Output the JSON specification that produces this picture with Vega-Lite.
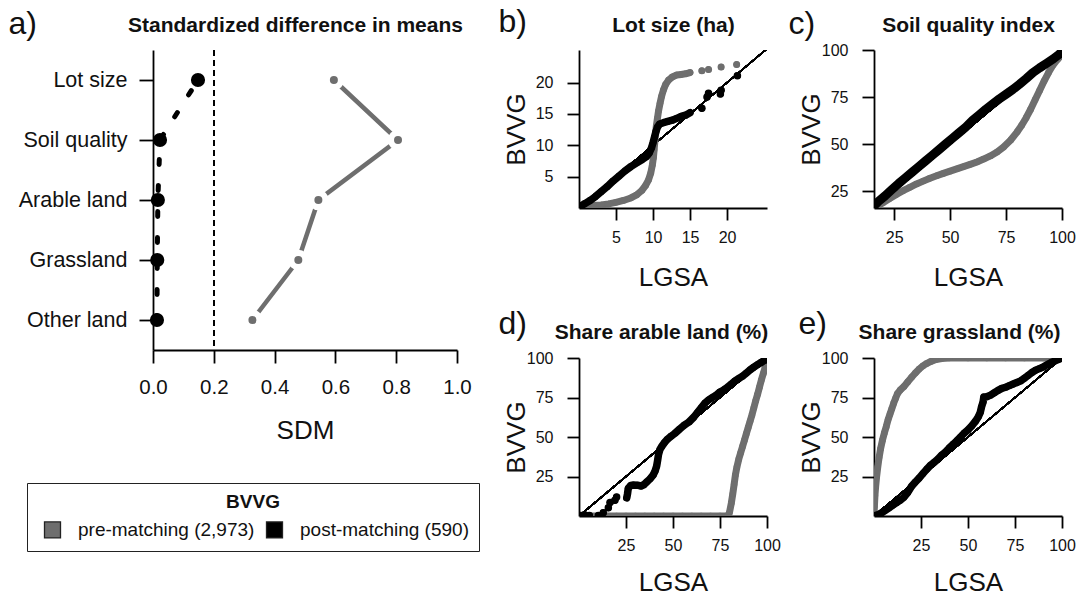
{
  "$schema": "https://vega.github.io/schema/vega-lite/v6.json",
  "autosize": {"type": "none"},
  "padding": {"left": 153, "top": 50, "right": 932, "bottom": 546},
  "background": "white",
  "bounds": "flush",
  "spacing": 122,
  "resolve": {"scale": {"color": "independent"}},
  "config": {
    "font": "Liberation Sans",
    "view": {"stroke": null},
    "axis": {"grid": false, "domainColor": "#000", "tickColor": "#000", "labelColor": "#111", "titleColor": "#111", "labelFont": "Liberation Sans", "titleFont": "Liberation Sans", "titleFontWeight": "normal", "domainWidth": 1.8, "tickWidth": 1.8, "labelFlush": false, "labelOverlap": false},
    "legend": {"titleFontSize": 19, "titleFontWeight": "bold", "labelFontSize": 19, "labelLimit": 400, "symbolType": "square", "symbolSize": 256, "strokeColor": "#222", "padding": 10, "titleAnchor": "middle", "labelOffset": 16, "columnPadding": 4, "symbolOffset": 6, "titlePadding": 8, "labelColor": "#111", "titleColor": "#111", "symbolStrokeColor": "#222", "symbolStrokeWidth": 1.3, "labelFont": "Liberation Sans", "titleFont": "Liberation Sans"}
  },
  "datasets": {
    "sdm": [
      {"variable": "Lot size", "rank": 1, "sample": "pre-matching (2,973)", "sdm": 0.595},
      {"variable": "Soil quality", "rank": 2, "sample": "pre-matching (2,973)", "sdm": 0.806},
      {"variable": "Arable land", "rank": 3, "sample": "pre-matching (2,973)", "sdm": 0.544},
      {"variable": "Grassland", "rank": 4, "sample": "pre-matching (2,973)", "sdm": 0.478},
      {"variable": "Other land", "rank": 5, "sample": "pre-matching (2,973)", "sdm": 0.327},
      {"variable": "Lot size", "rank": 1, "sample": "post-matching (590)", "sdm": 0.148},
      {"variable": "Soil quality", "rank": 2, "sample": "post-matching (590)", "sdm": 0.023},
      {"variable": "Arable land", "rank": 3, "sample": "post-matching (590)", "sdm": 0.016},
      {"variable": "Grassland", "rank": 4, "sample": "post-matching (590)", "sdm": 0.014},
      {"variable": "Other land", "rank": 5, "sample": "post-matching (590)", "sdm": 0.013}
    ],
    "lot": [
      {"g":"pre","r":1,"x":0.3,"y":0.2},{"g":"pre","r":1,"x":1,"y":0.3},{"g":"pre","r":1,"x":2,"y":0.4},{"g":"pre","r":1,"x":3,"y":0.5},{"g":"pre","r":1,"x":4,"y":0.65},{"g":"pre","r":1,"x":5,"y":0.9},{"g":"pre","r":1,"x":6,"y":1.2},{"g":"pre","r":1,"x":7,"y":1.6},{"g":"pre","r":1,"x":7.8,"y":2.1},{"g":"pre","r":1,"x":8.5,"y":2.8},{"g":"pre","r":1,"x":9,"y":3.6},{"g":"pre","r":1,"x":9.4,"y":4.5},{"g":"pre","r":1,"x":9.7,"y":5.6},{"g":"pre","r":1,"x":9.9,"y":6.8},{"g":"pre","r":1,"x":10.05,"y":8},{"g":"pre","r":1,"x":10.15,"y":9.3},{"g":"pre","r":1,"x":10.25,"y":10.6},{"g":"pre","r":1,"x":10.35,"y":11.9},{"g":"pre","r":1,"x":10.45,"y":13.1},{"g":"pre","r":1,"x":10.6,"y":14.3},{"g":"pre","r":1,"x":10.75,"y":15.5},{"g":"pre","r":1,"x":10.95,"y":16.7},{"g":"pre","r":1,"x":11.15,"y":17.8},{"g":"pre","r":1,"x":11.4,"y":18.8},{"g":"pre","r":1,"x":11.7,"y":19.7},{"g":"pre","r":1,"x":12.1,"y":20.4},{"g":"pre","r":1,"x":12.6,"y":20.9},{"g":"pre","r":1,"x":13.2,"y":21.2},{"g":"pre","r":1,"x":13.8,"y":21.3},{"g":"pre","r":1,"x":14.4,"y":21.4},{"g":"pre","r":1,"x":15,"y":21.6},
      {"g":"pre","r":2,"x":16.6,"y":21.9},{"g":"pre","r":3,"x":17.5,"y":22.1},{"g":"pre","r":4,"x":19.2,"y":22.5},{"g":"pre","r":5,"x":21.3,"y":22.9},
      {"g":"post","r":1,"x":0.2,"y":0.3},{"g":"post","r":1,"x":0.8,"y":0.7},{"g":"post","r":1,"x":1.5,"y":1.2},{"g":"post","r":1,"x":2.2,"y":1.8},{"g":"post","r":1,"x":3,"y":2.6},{"g":"post","r":1,"x":3.8,"y":3.4},{"g":"post","r":1,"x":4.6,"y":4.3},{"g":"post","r":1,"x":5.4,"y":5.1},{"g":"post","r":1,"x":6.2,"y":5.9},{"g":"post","r":1,"x":7,"y":6.6},{"g":"post","r":1,"x":7.8,"y":7.2},{"g":"post","r":1,"x":8.5,"y":7.7},{"g":"post","r":1,"x":9.1,"y":8.2},{"g":"post","r":1,"x":9.5,"y":8.8},{"g":"post","r":1,"x":9.8,"y":9.6},{"g":"post","r":1,"x":10,"y":10.4},{"g":"post","r":1,"x":10.2,"y":11.3},{"g":"post","r":1,"x":10.4,"y":12.2},{"g":"post","r":1,"x":10.6,"y":12.9},{"g":"post","r":1,"x":10.9,"y":13.4},{"g":"post","r":1,"x":11.4,"y":13.6},{"g":"post","r":1,"x":12,"y":13.8},{"g":"post","r":1,"x":12.6,"y":14},{"g":"post","r":1,"x":13.2,"y":14.3},{"g":"post","r":1,"x":13.8,"y":14.6},{"g":"post","r":1,"x":14.4,"y":14.8},{"g":"post","r":1,"x":15,"y":15.2},
      {"g":"post","r":2,"x":16.6,"y":15.9},{"g":"post","r":3,"x":17.3,"y":17.7},{"g":"post","r":4,"x":17.5,"y":18.3},{"g":"post","r":5,"x":19.1,"y":18.2},{"g":"post","r":6,"x":19.2,"y":18.8},{"g":"post","r":7,"x":21.4,"y":21.1}
    ],
    "soil": [
      {"g":"pre","r":1,"x":16.5,"y":16.5},{"g":"pre","r":1,"x":18,"y":17.3},{"g":"pre","r":1,"x":20,"y":18.8},{"g":"pre","r":1,"x":23,"y":21},{"g":"pre","r":1,"x":26,"y":23.2},{"g":"pre","r":1,"x":29,"y":25.2},{"g":"pre","r":1,"x":32,"y":27},{"g":"pre","r":1,"x":35,"y":28.8},{"g":"pre","r":1,"x":38,"y":30.3},{"g":"pre","r":1,"x":41,"y":31.8},{"g":"pre","r":1,"x":44,"y":33.1},{"g":"pre","r":1,"x":47,"y":34.4},{"g":"pre","r":1,"x":50,"y":35.6},{"g":"pre","r":1,"x":53,"y":36.8},{"g":"pre","r":1,"x":56,"y":38},{"g":"pre","r":1,"x":59,"y":39.2},{"g":"pre","r":1,"x":62,"y":40.5},{"g":"pre","r":1,"x":65,"y":42},{"g":"pre","r":1,"x":68,"y":43.7},{"g":"pre","r":1,"x":71,"y":45.8},{"g":"pre","r":1,"x":74,"y":48.5},{"g":"pre","r":1,"x":77,"y":52},{"g":"pre","r":1,"x":80,"y":56.5},{"g":"pre","r":1,"x":82,"y":60},{"g":"pre","r":1,"x":84,"y":64},{"g":"pre","r":1,"x":86,"y":68.5},{"g":"pre","r":1,"x":88,"y":73.5},{"g":"pre","r":1,"x":90,"y":78.5},{"g":"pre","r":1,"x":92,"y":83.5},{"g":"pre","r":1,"x":94,"y":88},{"g":"pre","r":1,"x":96,"y":92},{"g":"pre","r":1,"x":98,"y":95},{"g":"pre","r":1,"x":99.5,"y":97},
      {"g":"post","r":1,"x":16.3,"y":17.5},{"g":"post","r":1,"x":18,"y":19.5},{"g":"post","r":1,"x":21,"y":22.5},{"g":"post","r":1,"x":24,"y":25.8},{"g":"post","r":1,"x":27,"y":29},{"g":"post","r":1,"x":30,"y":32},{"g":"post","r":1,"x":33,"y":35},{"g":"post","r":1,"x":36,"y":38},{"g":"post","r":1,"x":39,"y":41},{"g":"post","r":1,"x":42,"y":44},{"g":"post","r":1,"x":45,"y":47},{"g":"post","r":1,"x":48,"y":50},{"g":"post","r":1,"x":51,"y":53},{"g":"post","r":1,"x":54,"y":56},{"g":"post","r":1,"x":57,"y":59},{"g":"post","r":1,"x":60,"y":62.5},{"g":"post","r":1,"x":63,"y":65.5},{"g":"post","r":1,"x":66,"y":68.5},{"g":"post","r":1,"x":69,"y":71.3},{"g":"post","r":1,"x":72,"y":74},{"g":"post","r":1,"x":75,"y":76.5},{"g":"post","r":1,"x":78,"y":79},{"g":"post","r":1,"x":81,"y":81.8},{"g":"post","r":1,"x":84,"y":84.8},{"g":"post","r":1,"x":87,"y":88},{"g":"post","r":1,"x":90,"y":90.5},{"g":"post","r":1,"x":93,"y":92.8},{"g":"post","r":1,"x":96,"y":95.2},{"g":"post","r":1,"x":98.5,"y":97.5},{"g":"post","r":1,"x":99.5,"y":98.5}
    ],
    "arable": [
      {"g":"pre","r":1,"x":0.5,"y":0},{"g":"pre","r":1,"x":5,"y":0},{"g":"pre","r":1,"x":10,"y":0},{"g":"pre","r":1,"x":15,"y":0},{"g":"pre","r":1,"x":20,"y":0},{"g":"pre","r":1,"x":25,"y":0},{"g":"pre","r":1,"x":30,"y":0},{"g":"pre","r":1,"x":35,"y":0},{"g":"pre","r":1,"x":40,"y":0},{"g":"pre","r":1,"x":45,"y":0},{"g":"pre","r":1,"x":50,"y":0},{"g":"pre","r":1,"x":55,"y":0},{"g":"pre","r":1,"x":60,"y":0},{"g":"pre","r":1,"x":65,"y":0},{"g":"pre","r":1,"x":70,"y":0},{"g":"pre","r":1,"x":75,"y":0},{"g":"pre","r":1,"x":79,"y":0},{"g":"pre","r":1,"x":80,"y":2},{"g":"pre","r":1,"x":81,"y":8},{"g":"pre","r":1,"x":81.8,"y":14},{"g":"pre","r":1,"x":82.5,"y":20},{"g":"pre","r":1,"x":83.2,"y":26},{"g":"pre","r":1,"x":84,"y":31},{"g":"pre","r":1,"x":85,"y":36},{"g":"pre","r":1,"x":86,"y":40},{"g":"pre","r":1,"x":87,"y":44},{"g":"pre","r":1,"x":88,"y":48},{"g":"pre","r":1,"x":89,"y":52},{"g":"pre","r":1,"x":90,"y":56},{"g":"pre","r":1,"x":91,"y":60},{"g":"pre","r":1,"x":92,"y":64},{"g":"pre","r":1,"x":93,"y":68.5},{"g":"pre","r":1,"x":94,"y":73},{"g":"pre","r":1,"x":95,"y":77},{"g":"pre","r":1,"x":96,"y":81.5},{"g":"pre","r":1,"x":97,"y":86},{"g":"pre","r":1,"x":98,"y":90},{"g":"pre","r":1,"x":99,"y":94},{"g":"pre","r":1,"x":99.7,"y":97.5},{"g":"pre","r":1,"x":100,"y":100},
      {"g":"post","r":2,"x":1,"y":0.3},{"g":"post","r":3,"x":3,"y":0.8},{"g":"post","r":4,"x":5.5,"y":0.3},{"g":"post","r":5,"x":10.3,"y":0.3},{"g":"post","r":6,"x":12.9,"y":2.1},{"g":"post","r":7,"x":15.6,"y":5.2},{"g":"post","r":8,"x":16.5,"y":8.5},{"g":"post","r":9,"x":19.1,"y":9.9},{"g":"post","r":10,"x":20,"y":12},
      {"g":"post","r":1,"x":25.4,"y":11.5},{"g":"post","r":1,"x":25.8,"y":14},{"g":"post","r":1,"x":26.2,"y":17.5},{"g":"post","r":1,"x":27.5,"y":19.3},{"g":"post","r":1,"x":29,"y":19.6},{"g":"post","r":1,"x":31,"y":19.5},{"g":"post","r":1,"x":33,"y":19},{"g":"post","r":1,"x":34.5,"y":19.8},{"g":"post","r":1,"x":36,"y":21.5},{"g":"post","r":1,"x":37.8,"y":23.5},{"g":"post","r":1,"x":39.5,"y":26},{"g":"post","r":1,"x":40.5,"y":28.5},{"g":"post","r":1,"x":41.3,"y":31.5},{"g":"post","r":1,"x":41.8,"y":35},{"g":"post","r":1,"x":42.3,"y":39},{"g":"post","r":1,"x":43,"y":42},{"g":"post","r":1,"x":44,"y":44},{"g":"post","r":1,"x":45.5,"y":46.5},{"g":"post","r":1,"x":47,"y":48.5},{"g":"post","r":1,"x":49,"y":50.5},{"g":"post","r":1,"x":51,"y":52.3},{"g":"post","r":1,"x":53.5,"y":55},{"g":"post","r":1,"x":56,"y":57.5},{"g":"post","r":1,"x":58.5,"y":59.5},{"g":"post","r":1,"x":61,"y":62.5},{"g":"post","r":1,"x":63,"y":65.5},{"g":"post","r":1,"x":65,"y":68.5},{"g":"post","r":1,"x":67,"y":71.5},{"g":"post","r":1,"x":69,"y":73.5},{"g":"post","r":1,"x":71,"y":75},{"g":"post","r":1,"x":73,"y":76.5},{"g":"post","r":1,"x":75,"y":78.5},{"g":"post","r":1,"x":77,"y":79.8},{"g":"post","r":1,"x":79,"y":81.5},{"g":"post","r":1,"x":81,"y":83.5},{"g":"post","r":1,"x":83,"y":85.5},{"g":"post","r":1,"x":85,"y":87},{"g":"post","r":1,"x":87,"y":88.5},{"g":"post","r":1,"x":89,"y":90.5},{"g":"post","r":1,"x":91,"y":92.5},{"g":"post","r":1,"x":93,"y":94.2},{"g":"post","r":1,"x":95,"y":95.8},{"g":"post","r":1,"x":97,"y":97.3},{"g":"post","r":1,"x":98.5,"y":98.5},{"g":"post","r":1,"x":100,"y":99}
    ],
    "grass": [
      {"g":"pre","r":1,"x":0,"y":0},{"g":"pre","r":1,"x":0.2,"y":6},{"g":"pre","r":1,"x":0.5,"y":13},{"g":"pre","r":1,"x":0.9,"y":19},{"g":"pre","r":1,"x":1.4,"y":25},{"g":"pre","r":1,"x":2,"y":31},{"g":"pre","r":1,"x":2.7,"y":37},{"g":"pre","r":1,"x":3.5,"y":42.5},{"g":"pre","r":1,"x":4.5,"y":48},{"g":"pre","r":1,"x":5.5,"y":52.5},{"g":"pre","r":1,"x":6.5,"y":56.5},{"g":"pre","r":1,"x":7.5,"y":61},{"g":"pre","r":1,"x":8.5,"y":64.5},{"g":"pre","r":1,"x":9.5,"y":68},{"g":"pre","r":1,"x":10.5,"y":71.5},{"g":"pre","r":1,"x":11.5,"y":74.5},{"g":"pre","r":1,"x":12.5,"y":77.5},{"g":"pre","r":1,"x":14,"y":79.8},{"g":"pre","r":1,"x":16,"y":82},{"g":"pre","r":1,"x":18,"y":85},{"g":"pre","r":1,"x":20,"y":87.8},{"g":"pre","r":1,"x":22,"y":90.5},{"g":"pre","r":1,"x":24,"y":93},{"g":"pre","r":1,"x":26,"y":95},{"g":"pre","r":1,"x":28,"y":96.5},{"g":"pre","r":1,"x":30,"y":97.7},{"g":"pre","r":1,"x":33,"y":99},{"g":"pre","r":1,"x":36,"y":99.7},{"g":"pre","r":1,"x":40,"y":100},{"g":"pre","r":1,"x":50,"y":100},{"g":"pre","r":1,"x":60,"y":100},{"g":"pre","r":1,"x":70,"y":100},{"g":"pre","r":1,"x":80,"y":100},{"g":"pre","r":1,"x":90,"y":100},{"g":"pre","r":1,"x":100,"y":100},
      {"g":"post","r":1,"x":0,"y":0},{"g":"post","r":1,"x":2,"y":0.8},{"g":"post","r":1,"x":4,"y":2},{"g":"post","r":1,"x":6,"y":3.6},{"g":"post","r":1,"x":8,"y":5.2},{"g":"post","r":1,"x":10,"y":6.8},{"g":"post","r":1,"x":12,"y":8.4},{"g":"post","r":1,"x":14,"y":10},{"g":"post","r":1,"x":16,"y":12},{"g":"post","r":1,"x":18,"y":15},{"g":"post","r":1,"x":20,"y":18.8},{"g":"post","r":1,"x":22,"y":21.5},{"g":"post","r":1,"x":24,"y":24},{"g":"post","r":1,"x":26,"y":26.8},{"g":"post","r":1,"x":28,"y":29.5},{"g":"post","r":1,"x":30,"y":32},{"g":"post","r":1,"x":32,"y":34},{"g":"post","r":1,"x":34,"y":36},{"g":"post","r":1,"x":36,"y":38.5},{"g":"post","r":1,"x":38,"y":40.5},{"g":"post","r":1,"x":40,"y":43},{"g":"post","r":1,"x":42,"y":45.3},{"g":"post","r":1,"x":44,"y":47.5},{"g":"post","r":1,"x":46,"y":50},{"g":"post","r":1,"x":48,"y":52.5},{"g":"post","r":1,"x":50,"y":54.5},{"g":"post","r":1,"x":52,"y":57},{"g":"post","r":1,"x":54,"y":60},{"g":"post","r":1,"x":55.5,"y":62.8},{"g":"post","r":1,"x":56.5,"y":65.5},{"g":"post","r":1,"x":57.2,"y":69},{"g":"post","r":1,"x":58,"y":72},{"g":"post","r":1,"x":58.4,"y":75.3},{"g":"post","r":1,"x":60,"y":75.5},{"g":"post","r":1,"x":62,"y":76.5},{"g":"post","r":1,"x":64,"y":78},{"g":"post","r":1,"x":66,"y":79.5},{"g":"post","r":1,"x":68,"y":80.8},{"g":"post","r":1,"x":70,"y":81.5},{"g":"post","r":1,"x":72,"y":82.5},{"g":"post","r":1,"x":74,"y":83.5},{"g":"post","r":1,"x":76,"y":84.5},{"g":"post","r":1,"x":78,"y":85.5},{"g":"post","r":1,"x":80,"y":87.2},{"g":"post","r":1,"x":82,"y":89},{"g":"post","r":1,"x":84,"y":90.8},{"g":"post","r":1,"x":86,"y":92.3},{"g":"post","r":1,"x":88,"y":93.3},{"g":"post","r":1,"x":90,"y":94.3},{"g":"post","r":1,"x":92,"y":95.7},{"g":"post","r":1,"x":94,"y":97},{"g":"post","r":1,"x":96,"y":98},{"g":"post","r":1,"x":98,"y":99},{"g":"post","r":1,"x":100,"y":100}
    ]
  },
  "hconcat": [
    {
      "width": 304, "height": 300,
      "data": {"name": "sdm"},
      "resolve": {"axis": {"x": "independent"}},
      "layer": [
        {"mark": {"type": "rule", "strokeDash": [6, 4], "strokeWidth": 1.5, "color": "#000"},
         "encoding": {"x": {"datum": 0.2, "type": "quantitative", "scale": {"domain": [0, 1], "nice": false, "zero": false},
           "axis": {"orient": "top", "title": "Standardized difference in means", "domain": false, "ticks": false, "labels": false, "titleFontWeight": "bold", "titleFontSize": 21, "titleY": -19, "titleX": 142, "titleBaseline": "alphabetic"}}}},
        {"transform": [{"filter": {"field": "sample", "equal": "pre-matching (2,973)"}}],
         "mark": {"type": "line", "color": "#6e6e6e", "strokeWidth": 4.5},
         "encoding": {
           "x": {"field": "sdm", "type": "quantitative", "scale": {"domain": [0, 1], "nice": false, "zero": false},
             "axis": {"orient": "bottom", "values": [0, 0.2, 0.4, 0.6, 0.8, 1], "format": ".1f", "tickSize": 13, "labelPadding": 14, "labelFontSize": 20.5, "title": "SDM", "titleFontSize": 26, "titleY": 88, "titleBaseline": "alphabetic"}},
           "y": {"field": "variable", "type": "ordinal", "scale": {"type": "point", "domain": ["Lot size", "Soil quality", "Arable land", "Grassland", "Other land"], "padding": 0.5},
             "axis": {"orient": "left", "tickSize": 14, "labelPadding": 12, "labelFontSize": 21.5, "title": "a)", "titleAngle": 0, "titleAlign": "left", "titleBaseline": "alphabetic", "titleFontSize": 32, "titleX": -145, "titleY": -17}},
           "order": {"field": "rank"}}},
        {"transform": [{"filter": {"field": "sample", "equal": "post-matching (590)"}}],
         "mark": {"type": "line", "color": "#000", "strokeWidth": 5, "strokeDash": [5, 21], "strokeDashOffset": 13.5, "strokeCap": "round"},
         "encoding": {"x": {"field": "sdm", "type": "quantitative", "axis": null}, "y": {"field": "variable", "type": "ordinal"}, "order": {"field": "rank"}}},
        {"transform": [{"filter": {"field": "sample", "equal": "pre-matching (2,973)"}}],
         "mark": {"type": "circle", "color": "white", "size": 420, "opacity": 1},
         "encoding": {"x": {"field": "sdm", "type": "quantitative", "axis": null}, "y": {"field": "variable", "type": "ordinal"}}},
        {"transform": [{"filter": {"field": "sample", "equal": "pre-matching (2,973)"}}],
         "mark": {"type": "circle", "size": 64, "opacity": 1},
         "encoding": {"x": {"field": "sdm", "type": "quantitative", "axis": null}, "y": {"field": "variable", "type": "ordinal"},
           "color": {"field": "sample", "type": "nominal", "scale": {"domain": ["pre-matching (2,973)", "post-matching (590)"], "range": ["#6e6e6e", "#000000"]},
             "legend": {"orient": "none", "legendX": -126, "legendY": 433, "direction": "horizontal", "title": "BVVG"}}}},
        {"transform": [{"filter": {"field": "sample", "equal": "post-matching (590)"}}],
         "mark": {"type": "circle", "size": 200, "opacity": 1},
         "encoding": {"x": {"field": "sdm", "type": "quantitative", "axis": null}, "y": {"field": "variable", "type": "ordinal"},
           "color": {"field": "sample", "type": "nominal", "scale": {"domain": ["pre-matching (2,973)", "post-matching (590)"], "range": ["#6e6e6e", "#000000"]},
             "legend": {"orient": "none", "legendX": -126, "legendY": 433, "direction": "horizontal", "title": "BVVG"}}}}
      ]
    },
    {
      "columns": 2,
      "bounds": "flush",
      "spacing": {"row": 150, "column": 107},
      "concat": [
        {
          "width": 188, "height": 158,
          "data": {"name": "lot"},
          "resolve": {"axis": {"x": "independent", "y": "independent"}},
          "layer": [
            {"mark": {"type": "rule", "color": "#000", "strokeWidth": 1.2, "clip": true},
             "encoding": {
               "x": {"datum": 0, "type": "quantitative", "scale": {"domain": [0, 25.4], "nice": false, "zero": false}, "axis": {"orient": "top", "title": "Lot size (ha)", "domain": false, "ticks": false, "labels": false, "titleFontWeight": "bold", "titleFontSize": 21, "titleY": -19, "titleBaseline": "alphabetic"}},
               "y": {"datum": 0, "type": "quantitative", "scale": {"domain": [0, 25.2], "nice": false, "zero": false}, "axis": {"orient": "left", "title": "b)", "domain": false, "ticks": false, "labels": false, "titleAngle": 0, "titleAlign": "left", "titleBaseline": "alphabetic", "titleFontSize": 32, "titleX": -81, "titleY": -19}},
               "x2": {"datum": 26}, "y2": {"datum": 26}}},
            {"transform": [{"filter": "datum.g == 'pre'"}],
             "mark": {"type": "line", "color": "#6e6e6e", "strokeWidth": 7, "strokeCap": "round", "strokeJoin": "round", "clip": true},
             "encoding": {
               "x": {"field": "x", "type": "quantitative", "scale": {"domain": [0, 25.4], "nice": false, "zero": false}, "axis": {"orient": "bottom", "values": [5, 10, 15, 20], "title": "LGSA", "tickSize": 12, "labelPadding": 9, "labelFontSize": 16, "titleFontSize": 26, "titleY": 77, "titleBaseline": "alphabetic"}},
               "y": {"field": "y", "type": "quantitative", "scale": {"domain": [0, 25.2], "nice": false, "zero": false}, "axis": {"orient": "left", "values": [5, 10, 15, 20], "title": "BVVG", "tickSize": 12, "labelPadding": 14, "labelFontSize": 16, "titleFontSize": 26, "titleX": -55, "titleBaseline": "alphabetic"}},
               "detail": {"field": "r"}}},
            {"transform": [{"filter": "datum.g == 'pre'"}],
             "mark": {"type": "circle", "color": "#6e6e6e", "size": 42, "opacity": 1, "clip": true},
             "encoding": {"x": {"field": "x", "type": "quantitative", "axis": null}, "y": {"field": "y", "type": "quantitative", "axis": null}}},
            {"transform": [{"filter": "datum.g == 'post'"}],
             "mark": {"type": "line", "color": "#000", "strokeWidth": 7.5, "strokeCap": "round", "strokeJoin": "round", "clip": true},
             "encoding": {"x": {"field": "x", "type": "quantitative", "axis": null}, "y": {"field": "y", "type": "quantitative", "axis": null}, "detail": {"field": "r"}}},
            {"transform": [{"filter": "datum.g == 'post'"}],
             "mark": {"type": "circle", "color": "#000", "size": 45, "opacity": 1, "clip": true},
             "encoding": {"x": {"field": "x", "type": "quantitative", "axis": null}, "y": {"field": "y", "type": "quantitative", "axis": null}}}
          ]
        },
        {
          "width": 188, "height": 158,
          "data": {"name": "soil"},
          "resolve": {"axis": {"x": "independent", "y": "independent"}},
          "layer": [
            {"mark": {"type": "rule", "color": "#000", "strokeWidth": 1.2, "clip": true},
             "encoding": {
               "x": {"datum": 16, "type": "quantitative", "scale": {"domain": [16, 100], "nice": false, "zero": false}, "axis": {"orient": "top", "title": "Soil quality index", "domain": false, "ticks": false, "labels": false, "titleFontWeight": "bold", "titleFontSize": 21, "titleY": -19, "titleBaseline": "alphabetic"}},
               "y": {"datum": 16, "type": "quantitative", "scale": {"domain": [16, 100], "nice": false, "zero": false}, "axis": {"orient": "left", "title": "c)", "domain": false, "ticks": false, "labels": false, "titleAngle": 0, "titleAlign": "left", "titleBaseline": "alphabetic", "titleFontSize": 32, "titleX": -86, "titleY": -17}},
               "x2": {"datum": 100}, "y2": {"datum": 100}}},
            {"transform": [{"filter": "datum.g == 'pre'"}],
             "mark": {"type": "line", "color": "#6e6e6e", "strokeWidth": 7, "strokeCap": "round", "strokeJoin": "round", "clip": true},
             "encoding": {
               "x": {"field": "x", "type": "quantitative", "scale": {"domain": [16, 100], "nice": false, "zero": false}, "axis": {"orient": "bottom", "values": [25, 50, 75, 100], "title": "LGSA", "tickSize": 12, "labelPadding": 9, "labelFontSize": 16, "titleFontSize": 26, "titleY": 77, "titleBaseline": "alphabetic"}},
               "y": {"field": "y", "type": "quantitative", "scale": {"domain": [16, 100], "nice": false, "zero": false}, "axis": {"orient": "left", "values": [25, 50, 75, 100], "title": "BVVG", "tickSize": 12, "labelPadding": 14, "labelFontSize": 16, "titleFontSize": 26, "titleX": -55, "titleBaseline": "alphabetic"}},
               "detail": {"field": "r"}}},
            {"transform": [{"filter": "datum.g == 'pre'"}],
             "mark": {"type": "circle", "color": "#6e6e6e", "size": 42, "opacity": 1, "clip": true},
             "encoding": {"x": {"field": "x", "type": "quantitative", "axis": null}, "y": {"field": "y", "type": "quantitative", "axis": null}}},
            {"transform": [{"filter": "datum.g == 'post'"}],
             "mark": {"type": "line", "color": "#000", "strokeWidth": 9, "strokeCap": "round", "strokeJoin": "round", "clip": true},
             "encoding": {"x": {"field": "x", "type": "quantitative", "axis": null}, "y": {"field": "y", "type": "quantitative", "axis": null}, "detail": {"field": "r"}}},
            {"transform": [{"filter": "datum.g == 'post'"}],
             "mark": {"type": "circle", "color": "#000", "size": 45, "opacity": 1, "clip": true},
             "encoding": {"x": {"field": "x", "type": "quantitative", "axis": null}, "y": {"field": "y", "type": "quantitative", "axis": null}}}
          ]
        },
        {
          "width": 188, "height": 158,
          "data": {"name": "arable"},
          "resolve": {"axis": {"x": "independent", "y": "independent"}},
          "layer": [
            {"mark": {"type": "rule", "color": "#000", "strokeWidth": 1.2, "clip": true},
             "encoding": {
               "x": {"datum": 0, "type": "quantitative", "scale": {"domain": [0, 100], "nice": false, "zero": false}, "axis": {"orient": "top", "title": "Share arable land (%)", "domain": false, "ticks": false, "labels": false, "titleFontWeight": "bold", "titleFontSize": 21, "titleY": -20, "titleX": 82, "titleBaseline": "alphabetic"}},
               "y": {"datum": 0, "type": "quantitative", "scale": {"domain": [0, 100], "nice": false, "zero": false}, "axis": {"orient": "left", "title": "d)", "domain": false, "ticks": false, "labels": false, "titleAngle": 0, "titleAlign": "left", "titleBaseline": "alphabetic", "titleFontSize": 32, "titleX": -81, "titleY": -25}},
               "x2": {"datum": 100}, "y2": {"datum": 100}}},
            {"transform": [{"filter": "datum.g == 'pre'"}],
             "mark": {"type": "line", "color": "#6e6e6e", "strokeWidth": 7, "strokeCap": "round", "strokeJoin": "round", "clip": true},
             "encoding": {
               "x": {"field": "x", "type": "quantitative", "scale": {"domain": [0, 100], "nice": false, "zero": false}, "axis": {"orient": "bottom", "values": [25, 50, 75, 100], "title": "LGSA", "tickSize": 12, "labelPadding": 9, "labelFontSize": 16, "titleFontSize": 26, "titleY": 74, "titleBaseline": "alphabetic"}},
               "y": {"field": "y", "type": "quantitative", "scale": {"domain": [0, 100], "nice": false, "zero": false}, "axis": {"orient": "left", "values": [25, 50, 75, 100], "title": "BVVG", "tickSize": 12, "labelPadding": 14, "labelFontSize": 16, "titleFontSize": 26, "titleX": -55, "titleBaseline": "alphabetic"}},
               "detail": {"field": "r"}}},
            {"transform": [{"filter": "datum.g == 'pre'"}],
             "mark": {"type": "circle", "color": "#6e6e6e", "size": 42, "opacity": 1, "clip": true},
             "encoding": {"x": {"field": "x", "type": "quantitative", "axis": null}, "y": {"field": "y", "type": "quantitative", "axis": null}}},
            {"transform": [{"filter": "datum.g == 'post'"}],
             "mark": {"type": "line", "color": "#000", "strokeWidth": 7.5, "strokeCap": "round", "strokeJoin": "round", "clip": true},
             "encoding": {"x": {"field": "x", "type": "quantitative", "axis": null}, "y": {"field": "y", "type": "quantitative", "axis": null}, "detail": {"field": "r"}}},
            {"transform": [{"filter": "datum.g == 'post'"}],
             "mark": {"type": "circle", "color": "#000", "size": 45, "opacity": 1, "clip": true},
             "encoding": {"x": {"field": "x", "type": "quantitative", "axis": null}, "y": {"field": "y", "type": "quantitative", "axis": null}}}
          ]
        },
        {
          "width": 188, "height": 158,
          "data": {"name": "grass"},
          "resolve": {"axis": {"x": "independent", "y": "independent"}},
          "layer": [
            {"mark": {"type": "rule", "color": "#000", "strokeWidth": 1.2, "clip": true},
             "encoding": {
               "x": {"datum": 0, "type": "quantitative", "scale": {"domain": [0, 100], "nice": false, "zero": false}, "axis": {"orient": "top", "title": "Share grassland (%)", "domain": false, "ticks": false, "labels": false, "titleFontWeight": "bold", "titleFontSize": 21, "titleY": -20, "titleX": 85, "titleBaseline": "alphabetic"}},
               "y": {"datum": 0, "type": "quantitative", "scale": {"domain": [0, 100], "nice": false, "zero": false}, "axis": {"orient": "left", "title": "e)", "domain": false, "ticks": false, "labels": false, "titleAngle": 0, "titleAlign": "left", "titleBaseline": "alphabetic", "titleFontSize": 32, "titleX": -76, "titleY": -25}},
               "x2": {"datum": 100}, "y2": {"datum": 100}}},
            {"transform": [{"filter": "datum.g == 'pre'"}],
             "mark": {"type": "line", "color": "#6e6e6e", "strokeWidth": 7, "strokeCap": "round", "strokeJoin": "round", "clip": true},
             "encoding": {
               "x": {"field": "x", "type": "quantitative", "scale": {"domain": [0, 100], "nice": false, "zero": false}, "axis": {"orient": "bottom", "values": [25, 50, 75, 100], "title": "LGSA", "tickSize": 12, "labelPadding": 9, "labelFontSize": 16, "titleFontSize": 26, "titleY": 74, "titleBaseline": "alphabetic"}},
               "y": {"field": "y", "type": "quantitative", "scale": {"domain": [0, 100], "nice": false, "zero": false}, "axis": {"orient": "left", "values": [25, 50, 75, 100], "title": "BVVG", "tickSize": 12, "labelPadding": 14, "labelFontSize": 16, "titleFontSize": 26, "titleX": -55, "titleBaseline": "alphabetic"}},
               "detail": {"field": "r"}}},
            {"transform": [{"filter": "datum.g == 'pre'"}],
             "mark": {"type": "circle", "color": "#6e6e6e", "size": 42, "opacity": 1, "clip": true},
             "encoding": {"x": {"field": "x", "type": "quantitative", "axis": null}, "y": {"field": "y", "type": "quantitative", "axis": null}}},
            {"transform": [{"filter": "datum.g == 'post'"}],
             "mark": {"type": "line", "color": "#000", "strokeWidth": 7.5, "strokeCap": "round", "strokeJoin": "round", "clip": true},
             "encoding": {"x": {"field": "x", "type": "quantitative", "axis": null}, "y": {"field": "y", "type": "quantitative", "axis": null}, "detail": {"field": "r"}}},
            {"transform": [{"filter": "datum.g == 'post'"}],
             "mark": {"type": "circle", "color": "#000", "size": 45, "opacity": 1, "clip": true},
             "encoding": {"x": {"field": "x", "type": "quantitative", "axis": null}, "y": {"field": "y", "type": "quantitative", "axis": null}}}
          ]
        }
      ]
    }
  ]
}
